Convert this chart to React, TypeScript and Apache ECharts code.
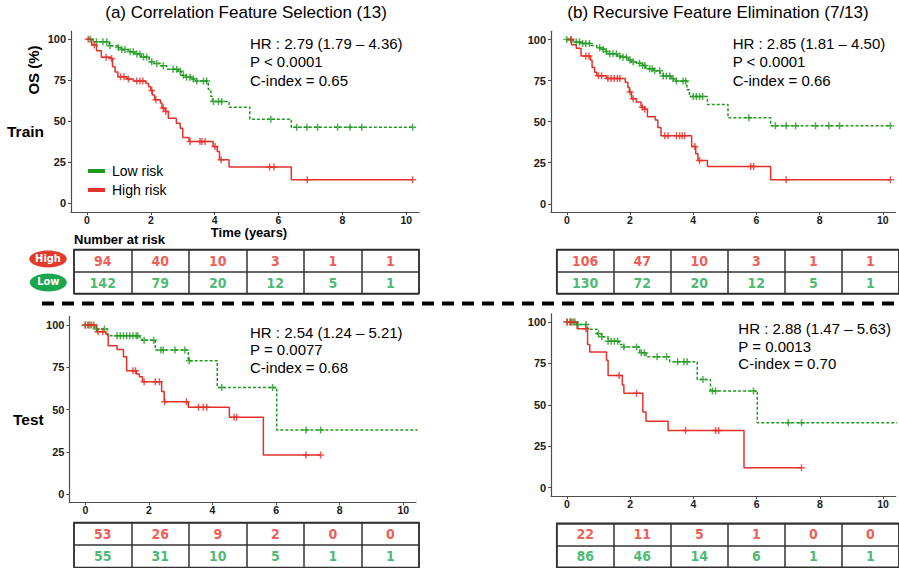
import React, { useEffect, useRef } from 'react';
import * as echarts from 'echarts';

// ---------- Tick labels / categories ----------
const timeTicks = [0, 2, 4, 6, 8, 10];
const survTicks = [0, 25, 50, 75, 100];
const riskCols = ['0', '2', '4', '6', '8', '10'];
const riskRows = ['High', 'Low'];

// ---------- (a) CFS, Train ----------
const trainCfsLowT = [0, 0.2, 0.7, 0.95, 1.05, 1.3, 1.5, 1.7, 1.95, 2.1, 2.3, 2.5, 2.85, 2.95, 3.1, 3.3, 3.4, 3.8, 3.88, 3.93, 4.45, 5.1, 6.4, 10.2];
const trainCfsLowS = [100, 98.5, 96, 95, 93.7, 92.3, 91, 89.2, 86.2, 85.2, 83.8, 81.7, 80.5, 78, 76.7, 75.7, 74.4, 69.4, 65, 62, 58.4, 51.1, 46.2, 46.2];
const trainCfsLowCens = [0.1, 0.3, 0.5, 0.62, 0.72, 0.98, 1.09, 1.19, 1.35, 1.45, 1.56, 1.66, 1.77, 1.87, 2.03, 2.19, 2.39, 2.7, 2.81, 2.92, 3.02, 3.12, 3.23, 3.33, 3.44, 3.65, 3.75, 3.96, 4.12, 4.22, 5.76, 6.57, 6.89, 7.22, 7.85, 8.24, 8.61, 10.2];
const trainCfsHighT = [0, 0.15, 0.3, 0.45, 0.75, 0.8, 0.88, 0.97, 1.25, 1.45, 1.85, 1.93, 2.0, 2.05, 2.12, 2.3, 2.35, 2.45, 2.55, 2.8, 2.92, 3.0, 3.2, 3.95, 4.08, 4.15, 4.45, 6.4, 10.2];
const trainCfsHighS = [100, 96.5, 93, 89, 88.2, 83.2, 80, 77, 75.7, 74.5, 73, 71, 68.6, 66, 63, 61, 58, 55.8, 51.7, 48.7, 45.6, 40, 37.5, 34.5, 31.4, 26.4, 21.9, 14.2, 14.2];
const trainCfsHighCens = [0.04, 0.23, 0.6, 0.77, 1.05, 1.16, 1.3, 1.56, 1.66, 1.75, 2.03, 2.16, 2.39, 2.47, 3.23, 3.54, 3.6, 3.7, 4.01, 4.2, 5.72, 5.86, 6.9, 10.2];
const trainCfsRiskHigh = [94, 40, 10, 3, 1, 1];
const trainCfsRiskLow = [142, 79, 20, 12, 5, 1];

// ---------- (b) RFE, Train ----------
const trainRfeLowT = [0, 0.2, 0.45, 0.75, 0.95, 1.1, 1.2, 1.3, 1.6, 1.7, 1.95, 2.05, 2.25, 2.4, 2.5, 2.75, 2.95, 3.05, 3.3, 3.42, 3.8, 3.88, 4.45, 5.1, 6.45, 10.24];
const trainRfeLowS = [100, 98.5, 97.5, 96.3, 95, 94, 92.7, 91.3, 90, 89.2, 87.5, 86.3, 85.6, 84.2, 82.2, 81, 79.5, 77.8, 76.1, 74.8, 69.4, 65.3, 60.4, 52.3, 47.5, 47.5];
const trainRfeLowCens = [0.0, 0.13, 0.3, 0.4, 0.5, 0.6, 0.72, 1.04, 1.15, 1.25, 1.36, 1.46, 1.57, 1.68, 1.78, 1.89, 2.0, 2.1, 2.3, 2.4, 2.47, 2.62, 2.7, 2.78, 2.94, 3.05, 3.15, 3.26, 3.36, 3.47, 3.68, 3.76, 4.0, 4.1, 4.2, 4.3, 5.76, 6.6, 6.94, 7.24, 7.87, 8.29, 8.63, 10.24];
const trainRfeHighT = [0, 0.15, 0.3, 0.45, 0.75, 0.8, 0.88, 0.95, 1.25, 1.85, 1.93, 1.98, 2.05, 2.2, 2.35, 2.45, 2.55, 2.8, 2.88, 2.98, 3.95, 4.08, 4.15, 4.45, 6.45, 10.24];
const trainRfeHighS = [100, 96.8, 94.7, 90, 87.6, 83, 80, 78, 76.3, 74, 71, 68, 64, 62, 58.8, 57.6, 53, 51, 46.5, 41.4, 34.9, 30.4, 26.4, 22.7, 14.6, 14.6];
const trainRfeHighCens = [0.13, 0.6, 0.7, 1.0, 1.1, 1.3, 1.4, 1.5, 1.6, 1.68, 2.0, 2.1, 2.39, 2.47, 3.1, 3.2, 3.47, 3.57, 3.65, 3.73, 4.05, 4.2, 5.82, 5.91, 6.94, 10.24];
const trainRfeRiskHigh = [106, 47, 10, 3, 1, 1];
const trainRfeRiskLow = [130, 72, 20, 12, 5, 1];

// ---------- (a) CFS, Test ----------
const testCfsLowT = [0, 0.3, 0.7, 1.72, 1.78, 2.2, 3.24, 4.15, 6.02, 10.45];
const testCfsLowS = [100, 97.6, 93.7, 92.5, 91, 85.2, 78.9, 63.1, 37.9, 37.9];
const testCfsLowCens = [0.0, 0.08, 0.15, 0.35, 0.6, 1.0, 1.1, 1.2, 1.3, 1.4, 1.5, 1.6, 1.65, 1.85, 2.15, 2.38, 2.45, 2.82, 3.13, 3.27, 4.29, 5.89, 6.94, 7.4];
const testCfsHighT = [0, 0.36, 0.65, 0.72, 1.0, 1.2, 1.3, 1.61, 1.7, 1.8, 2.4, 2.48, 3.24, 4.53, 5.6, 7.4];
const testCfsHighS = [100, 96, 94.5, 87.8, 85.6, 81.3, 73, 71, 69.4, 66.5, 60.6, 54.6, 51.3, 45.4, 23.1, 23.1];
const testCfsHighCens = [0.0, 0.1, 0.2, 0.27, 0.4, 0.55, 1.5, 1.58, 1.85, 2.2, 2.33, 2.5, 3.18, 3.56, 3.71, 3.82, 4.68, 4.76, 6.94, 7.4];
const testCfsRiskHigh = [53, 26, 9, 2, 0, 0];
const testCfsRiskLow = [55, 31, 10, 5, 1, 1];

// ---------- (b) RFE, Test ----------
const testRfeLowT = [0, 0.3, 0.65, 0.95, 1.1, 1.3, 1.65, 1.8, 2.3, 2.5, 3.25, 4.12, 4.54, 6.02, 10.5];
const testRfeLowS = [100, 98.6, 95.6, 93, 91.1, 88.5, 86.5, 85, 81.5, 79, 76, 65.4, 58.4, 39.2, 39.2];
const testRfeLowCens = [0.0, 0.1, 0.15, 0.25, 0.35, 0.6, 1.0, 1.1, 1.3, 1.4, 1.5, 1.6, 1.8, 2.2, 2.35, 2.45, 2.85, 3.15, 3.5, 3.7, 3.8, 4.3, 4.6, 4.7, 5.9, 7.0, 7.42];
const testRfeHighT = [0, 0.32, 0.65, 0.72, 1.25, 1.3, 1.75, 1.8, 2.4, 2.5, 3.2, 5.6, 7.42];
const testRfeHighS = [100, 96, 86.5, 81.9, 76.9, 67.8, 62, 57, 45.7, 40.2, 34.6, 12.1, 12.1];
const testRfeHighCens = [0.0, 0.1, 0.2, 0.6, 1.65, 2.2, 3.75, 4.7, 4.8, 7.42];
const testRfeRiskHigh = [22, 11, 5, 1, 0, 0];
const testRfeRiskLow = [86, 46, 14, 6, 1, 1];

// ---------- Texts ----------
const panelTitles = ['(a) Correlation Feature Selection (13)', '(b) Recursive Feature Elimination (7/13)'];
const statsTexts = [
  ['HR : 2.79 (1.79 – 4.36)', 'P < 0.0001', 'C-index = 0.65'],
  ['HR : 2.85 (1.81 – 4.50)', 'P < 0.0001', 'C-index = 0.66'],
  ['HR : 2.54 (1.24 – 5.21)', 'P = 0.0077', 'C-index = 0.68'],
  ['HR : 2.88 (1.47 – 5.63)', 'P = 0.0013', 'C-index = 0.70'],
];

const FONT = "Arial, 'Liberation Sans', Helvetica, sans-serif";
const NARROW = "'Liberation Sans Narrow', 'Arial Narrow', 'DejaVu Sans Condensed', Arial, sans-serif";
const GREEN = '#1f9a1f';
const RED = '#e4322b';
const TBL_GREEN = '#1aa84c';
const TBL_RED = '#e8332a';
const PLUS = 'path://M2.75,0L4.25,0L4.25,2.75L7,2.75L7,4.25L4.25,4.25L4.25,7L2.75,7L2.75,4.25L0,4.25L0,2.75L2.75,2.75Z';

const stepAt = (ts: number[], ss: number[], t: number) => {
  let v = ss[0];
  for (let i = 0; i < ts.length; i++) if (ts[i] <= t) v = ss[i];
  return v;
};

const panels = [
  {
    low: [trainCfsLowT, trainCfsLowS, trainCfsLowCens], high: [trainCfsHighT, trainCfsHighS, trainCfsHighCens],
    riskHigh: trainCfsRiskHigh, riskLow: trainCfsRiskLow,
    grid: { left: 71, top: 31, width: 348, height: 181 }, ymin: -5.5,
    table: { left: 74, top: 249.5, width: 345, height: 44 },
    stats: { x: 250, y: [43.5, 61.5, 80] },
  },
  {
    low: [trainRfeLowT, trainRfeLowS, trainRfeLowCens], high: [trainRfeHighT, trainRfeHighS, trainRfeHighCens],
    riskHigh: trainRfeRiskHigh, riskLow: trainRfeRiskLow,
    grid: { left: 551, top: 31.3, width: 344.5, height: 180.7 }, ymin: -5,
    table: { left: 556.7, top: 249.5, width: 346, height: 44 },
    stats: { x: 732.7, y: [43.5, 61.8, 80] },
  },
  {
    low: [testCfsLowT, testCfsLowS, testCfsLowCens], high: [testCfsHighT, testCfsHighS, testCfsHighCens],
    riskHigh: testCfsRiskHigh, riskLow: testCfsRiskLow,
    grid: { left: 69.4, top: 316.6, width: 346.6, height: 185.7 }, ymin: -4.9,
    table: { left: 74, top: 522.5, width: 345, height: 45 },
    stats: { x: 250, y: [332.5, 349.8, 367.7] },
  },
  {
    low: [testRfeLowT, testRfeLowS, testRfeLowCens], high: [testRfeHighT, testRfeHighS, testRfeHighCens],
    riskHigh: testRfeRiskHigh, riskLow: testRfeRiskLow,
    grid: { left: 551.2, top: 313.8, width: 344.5, height: 182.2 }, ymin: -5,
    table: { left: 556.7, top: 523.3, width: 346, height: 44 },
    stats: { x: 738.3, y: [328.5, 346, 363.5] },
  },
];

function buildOption() {
  const grid: any[] = [];
  const xAxis: any[] = [];
  const yAxis: any[] = [];
  const series: any[] = [];
  const graphic: any[] = [];

  panels.forEach((p, i) => {
    grid.push({ ...p.grid, containLabel: false });
    xAxis.push({
      type: 'value', gridIndex: i, min: -0.5, max: 10.4,
      axisLine: { show: true, onZero: false, lineStyle: { color: '#4d4d4d', width: 1.2 } },
      axisTick: { show: true, length: 3, customValues: timeTicks, lineStyle: { color: '#4d4d4d' } },
      axisLabel: { show: true, customValues: timeTicks, margin: 2, color: '#1a1a1a', fontWeight: 'bold', fontSize: 10.5, lineHeight: 11, fontFamily: FONT },
      splitLine: { show: false },
    });
    yAxis.push({
      type: 'value', gridIndex: i, min: p.ymin, max: 105,
      axisLine: { show: true, onZero: false, lineStyle: { color: '#4d4d4d', width: 1.2 } },
      axisTick: { show: true, length: 3, customValues: survTicks, lineStyle: { color: '#4d4d4d' } },
      axisLabel: { show: true, customValues: survTicks, margin: 5, color: '#1a1a1a', fontWeight: 'bold', fontSize: 11, fontFamily: FONT },
      splitLine: { show: false },
    });
    const curves: [string, any[], string, any][] = [
      ['Low risk', p.low, GREEN, [3, 2]],
      ['High risk', p.high, RED, 'solid'],
    ];
    curves.forEach(([name, c, color, dash]) => {
      const [ts, ss, cens] = c as number[][];
      series.push({
        type: 'line', name, xAxisIndex: i, yAxisIndex: i, step: 'end',
        data: ts.map((t, k) => [t, ss[k]]),
        showSymbol: false, symbol: 'none', color,
        itemStyle: { color },
        lineStyle: { color, width: 1.5, type: dash },
        silent: true, z: name === 'High risk' ? 3 : 2,
      });
      series.push({
        type: 'scatter', name: name + ' (censored)', xAxisIndex: i, yAxisIndex: i,
        data: cens.map((t) => [t, stepAt(ts, ss, t)]),
        symbol: PLUS, symbolSize: 7, itemStyle: { color }, silent: true, z: 4,
      });
    });
  });

  // Number-at-risk tables
  panels.forEach((p, i) => {
    const gi = 4 + i;
    grid.push({ ...p.table, containLabel: false, show: true, borderColor: '#2a2a2a', borderWidth: 1.5 });
    xAxis.push({
      type: 'category', gridIndex: gi, data: riskCols, boundaryGap: true,
      axisLine: { show: false }, axisTick: { show: false }, axisLabel: { show: false },
      splitLine: { show: true, interval: 0, lineStyle: { color: '#333', width: 1.5 } },
    });
    yAxis.push({
      type: 'category', gridIndex: gi, data: riskRows, inverse: true, boundaryGap: true,
      axisLine: { show: false }, axisTick: { show: false }, axisLabel: { show: false },
      splitLine: { show: true, interval: 0, lineStyle: { color: '#333', width: 1.5 } },
    });
    const rows: [number[], number, string][] = [[p.riskHigh, 0, TBL_RED], [p.riskLow, 1, TBL_GREEN]];
    rows.forEach(([vals, r, color]) => {
      series.push({
        type: 'scatter', name: 'risk' + i + '-' + r, xAxisIndex: gi, yAxisIndex: gi,
        data: vals.map((v, k) => [k, r, v]),
        symbol: 'rect', symbolSize: 1, itemStyle: { color: 'rgba(0,0,0,0)' }, silent: true,
        label: {
          show: true, position: 'inside', formatter: (q: any) => String(q.value[2]),
          color, fontWeight: 'bold', fontSize: 14, fontFamily: NARROW,
        },
      });
    });
  });

  // Titles
  graphic.push({ type: 'text', x: 246, y: 12, style: { text: panelTitles[0], font: `17px ${FONT}`, fill: '#000', textAlign: 'center', textVerticalAlign: 'middle' } });
  graphic.push({ type: 'text', x: 718, y: 12, style: { text: panelTitles[1], font: `17px ${FONT}`, fill: '#000', textAlign: 'center', textVerticalAlign: 'middle' } });
  // Stats
  panels.forEach((p, i) => {
    statsTexts[i].forEach((t, k) => {
      graphic.push({ type: 'text', x: p.stats.x, y: p.stats.y[k], style: { text: t, font: `15px ${FONT}`, fill: '#000', textAlign: 'left', textVerticalAlign: 'middle' } });
    });
  });
  // Row labels
  graphic.push({ type: 'text', x: 33, y: 70, rotation: Math.PI / 2, style: { text: 'OS (%)', font: `bold 15px ${FONT}`, fill: '#000', textAlign: 'center', textVerticalAlign: 'middle' } });
  graphic.push({ type: 'text', x: 7, y: 131, style: { text: 'Train', font: `bold 15.5px ${FONT}`, fill: '#000', textAlign: 'left', textVerticalAlign: 'middle' } });
  graphic.push({ type: 'text', x: 13, y: 419, style: { text: 'Test', font: `bold 15.5px ${FONT}`, fill: '#000', textAlign: 'left', textVerticalAlign: 'middle' } });
  graphic.push({ type: 'text', x: 249, y: 232, style: { text: 'Time (years)', font: `bold 13px ${FONT}`, fill: '#000', textAlign: 'center', textVerticalAlign: 'middle' } });
  graphic.push({ type: 'text', x: 74, y: 239.5, style: { text: 'Number at risk', font: `bold 13px ${FONT}`, fill: '#000', textAlign: 'left', textVerticalAlign: 'middle' } });
  // High / Low badges
  graphic.push({ type: 'ellipse', shape: { cx: 48, cy: 259, rx: 18.7, ry: 8.5 }, style: { fill: '#e23a2c' } });
  graphic.push({ type: 'text', x: 48, y: 258, style: { text: 'High', font: `bold 11px ${NARROW}`, fill: '#fff', textAlign: 'center', textVerticalAlign: 'middle' } });
  graphic.push({ type: 'ellipse', shape: { cx: 48.3, cy: 282.5, rx: 18.5, ry: 9 }, style: { fill: '#1aa64e' } });
  graphic.push({ type: 'text', x: 48.3, y: 281.5, style: { text: 'Low', font: `bold 11px ${NARROW}`, fill: '#fff', textAlign: 'center', textVerticalAlign: 'middle' } });
  // Separator
  graphic.push({ type: 'line', shape: { x1: 42, y1: 303.5, x2: 899, y2: 303.5 }, style: { stroke: '#000', lineWidth: 4, lineDash: [12, 8] } });

  return {
    animation: false,
    backgroundColor: '#fff',
    grid, xAxis, yAxis, series, graphic,
    legend: {
      data: ['Low risk', 'High risk'], left: 88, top: 163, orient: 'vertical', padding: 0,
      icon: 'rect', itemWidth: 17, itemHeight: 4, itemGap: 3, selectedMode: false,
      textStyle: { fontSize: 14, fontFamily: FONT, color: '#000', lineHeight: 16, padding: [0, 0, 0, 2] },
    },
  };
}

export default function App() {
  const ref = useRef<HTMLDivElement>(null);
  useEffect(() => {
    if (!ref.current) return;
    const chart = echarts.init(ref.current, undefined, { renderer: 'svg' });
    chart.setOption(buildOption() as any);
    return () => chart.dispose();
  }, []);
  return <div ref={ref} style={{ position: 'absolute', left: 0, top: 0, width: 899, height: 568 }} />;
}
